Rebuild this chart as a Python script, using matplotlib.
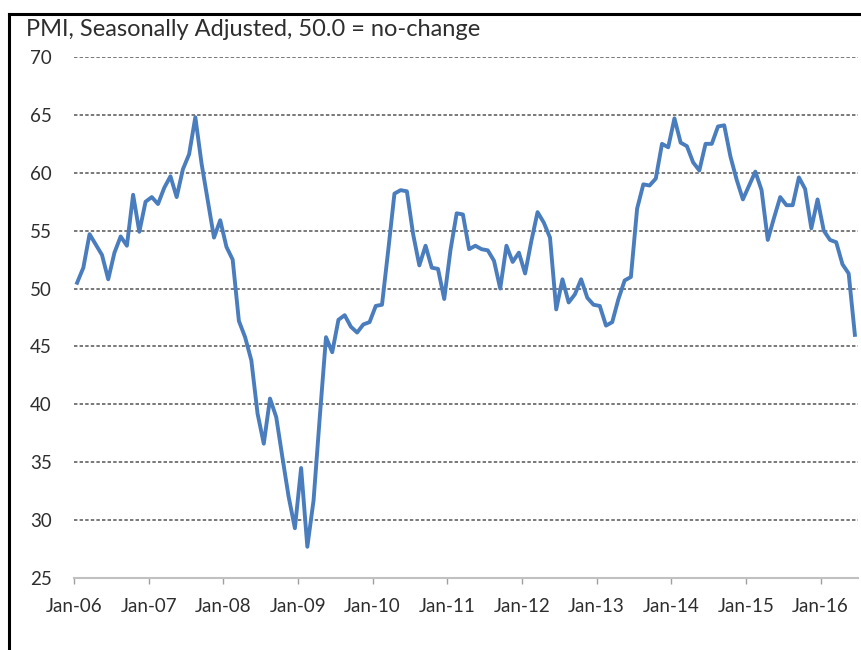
import matplotlib
matplotlib.use('Agg')
import matplotlib.pyplot as plt
from matplotlib.lines import Line2D
import numpy as np

# monthly PMI readings, Jan-06 .. Jun-16
pmi_2006 = [50.5, 51.8, 54.7, 53.8, 52.9, 50.8, 53.1, 54.5, 53.7, 58.1, 54.9, 57.5]
pmi_2007 = [57.9, 57.3, 58.7, 59.7, 57.9, 60.3, 61.6, 64.8, 60.8, 57.6, 54.4, 55.9]
pmi_2008 = [53.6, 52.5, 47.2, 45.8, 43.8, 39.2, 36.6, 40.5, 38.9, 35.4, 32.0, 29.3]
pmi_2009 = [34.5, 27.7, 31.7, 38.9, 45.8, 44.5, 47.3, 47.7, 46.7, 46.2, 46.9, 47.1]
pmi_2010 = [48.5, 48.6, 53.3, 58.2, 58.5, 58.4, 54.7, 52.0, 53.7, 51.8, 51.7, 49.1]
pmi_2011 = [53.3, 56.5, 56.4, 53.4, 53.7, 53.4, 53.3, 52.4, 50.0, 53.7, 52.3, 53.1]
pmi_2012 = [51.3, 54.1, 56.6, 55.7, 54.4, 48.2, 50.8, 48.8, 49.5, 50.8, 49.2, 48.6]
pmi_2013 = [48.5, 46.8, 47.1, 49.1, 50.7, 51.0, 56.9, 59.0, 58.9, 59.5, 62.5, 62.2]
pmi_2014 = [64.7, 62.6, 62.3, 60.9, 60.2, 62.5, 62.5, 64.0, 64.1, 61.4, 59.4, 57.7]
pmi_2015 = [58.9, 60.1, 58.5, 54.2, 56.1, 57.9, 57.2, 57.2, 59.6, 58.6, 55.2, 57.7]
pmi_2016 = [55.0, 54.2, 54.0, 52.1, 51.3, 46.0]

year_labels = ['Jan-06', 'Jan-07', 'Jan-08', 'Jan-09', 'Jan-10', 'Jan-11',
               'Jan-12', 'Jan-13', 'Jan-14', 'Jan-15', 'Jan-16']
y_ticks = [25, 30, 35, 40, 45, 50, 55, 60, 65, 70]

pmi = np.array(pmi_2006 + pmi_2007 + pmi_2008 + pmi_2009 + pmi_2010 + pmi_2011
               + pmi_2012 + pmi_2013 + pmi_2014 + pmi_2015 + pmi_2016)
months = np.arange(len(pmi))

plt.rcParams['font.family'] = ['Lato', 'DejaVu Sans']
text_col = '#2e2e2e'

fig = plt.figure(figsize=(8.62, 6.50), dpi=100)
ax = fig.add_axes([74/862, 72/650, 784/862, 521/650])

ax.plot(months, pmi, color='#4a7dbd', lw=2.8, solid_joinstyle='round', zorder=3)

# dashed horizontal gridlines (none on the 25 baseline)
for v in y_ticks[1:]:
    ax.axhline(v, color='#6e6e6e', lw=1.3, ls=(0, (1.9, 1.2)), zorder=1)

ax.set_ylim(25, 70)
ax.set_xlim(-0.5, len(pmi) - 0.5)
ax.set_yticks(y_ticks)
ax.set_yticklabels([str(v) for v in y_ticks])
ax.set_xticks(np.arange(len(year_labels)) * 12 - 0.5)
ax.set_xticklabels(year_labels)

for s in ['top', 'right', 'left']:
    ax.spines[s].set_visible(False)
ax.spines['bottom'].set_color('#c0c0c0')
ax.spines['bottom'].set_linewidth(1.5)

ax.tick_params(axis='y', length=0, pad=16, labelsize=13.5, labelcolor=text_col)
ax.tick_params(axis='x', length=4.5, width=1.0, color='#a0a0a0', pad=10,
               labelsize=13.5, labelcolor=text_col)

fig.text(26/862, 1 - 30/650, 'PMI, Seasonally Adjusted, 50.0 = no-change',
         fontsize=17, color=text_col, va='center', ha='left')

# black frame around the chart area
fig.add_artist(Line2D([9/862, 9/862], [0, 1 - 14/650], transform=fig.transFigure,
                      color='black', lw=2.2))
fig.add_artist(Line2D([9/862, 1], [1 - 14/650, 1 - 14/650], transform=fig.transFigure,
                      color='black', lw=2.2))

fig.savefig('out.png', dpi=100)
